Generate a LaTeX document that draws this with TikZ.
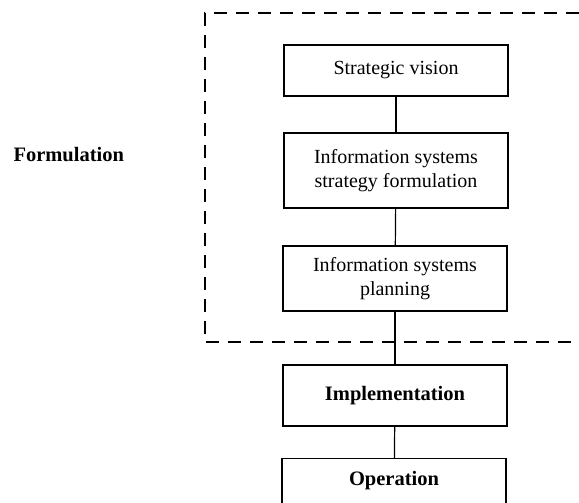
\documentclass[tikz,border=0pt]{standalone}
\usepackage{fontspec}
\setmainfont{Liberation Serif}
\begin{document}
\begin{tikzpicture}[x=1pt,y=-1pt,
  box/.style={draw,line width=1.2pt,minimum width=224pt,inner sep=0pt,align=center,font=\fontsize{20}{24}\selectfont},
  lbl/.style={font=\fontsize{20.5}{24}\selectfont\bfseries},
  link/.style={line width=1.2pt},
  frame/.style={line width=1.3pt,dash pattern=on 13pt off 9pt}]
\useasboundingbox (0,0) rectangle (579,503);
\clip (0,0) rectangle (579,503);
\draw[frame] (579,13) -- (205,13) -- (205,342) -- (579,342);
\node[lbl,anchor=west] (form) at (10,155) {Formulation};
\node[box,minimum height=51pt] (sv) at (396,70.5) {Strategic vision};
\node[box,minimum height=75pt] (issf) at (396,170.5) {Information systems\\strategy formulation};
\node[box,minimum height=65pt] (isp) at (395,278.5) {Information systems\\planning};
\node[box,minimum height=61pt,font=\fontsize{20.5}{24}\selectfont\bfseries] (impl) at (395,395.5) {Implementation};
\node[box,anchor=north,inner ysep=13pt,text height=14pt,text depth=40pt,font=\fontsize{20.5}{24}\selectfont\bfseries] (op) at (394,458) {Operation};
\draw[link] (sv) -- (issf);
\draw[link] (issf) -- (isp);
\draw[link] (isp) -- (impl);
\draw[link] (impl) -- (op);
\end{tikzpicture}
\end{document}
